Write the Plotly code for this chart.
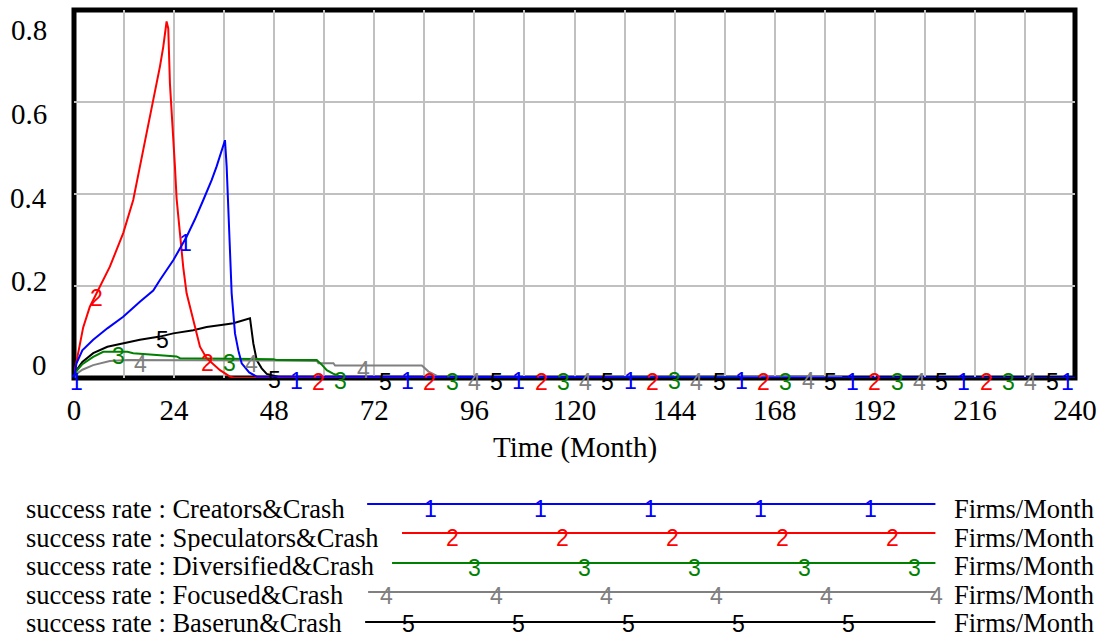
import numpy as np
import plotly.graph_objects as go

# ---------------- data ----------------
series_names = ["Creators&Crash", "Speculators&Crash", "Diversified&Crash",
                "Focused&Crash", "Baserun&Crash"]
series_colors = ["#0000ff", "#ff0000", "#008000", "#808080", "#000000"]
units = "Firms/Month"

t_creators = [0, 0.6, 2, 4.6, 8, 11.8, 15.8, 19, 20.6, 23.8, 27, 29, 31, 33, 34.2, 35.5, 36.2,
              36.6, 37.4, 37.8, 38.6, 39.4, 40.2, 42, 43.8, 240]
v_creators = [0, 0.032, 0.06, 0.083, 0.108, 0.133, 0.166, 0.19, 0.213, 0.256, 0.307, 0.345, 0.387,
              0.43, 0.46, 0.495, 0.517, 0.46, 0.278, 0.184, 0.097, 0.06, 0.032, 0.012, 0.003, 0]

t_speculators = [0, 0.2, 1, 2.2, 3.8, 6.2, 8.6, 11.8, 14.2, 16.6, 19, 20.6, 21.4, 22.2, 22.6, 23,
                 24.2, 24.6, 25.4, 26.2, 27, 28.6, 30.2, 31.8, 35, 37.4, 38.5,
                 122.6, 122.8, 129, 129.2, 240]
v_speculators = [0, 0.017, 0.054, 0.11, 0.155, 0.198, 0.242, 0.315, 0.387, 0.496, 0.6, 0.677, 0.72,
                 0.775, 0.76, 0.64, 0.46, 0.39, 0.315, 0.24, 0.184, 0.126, 0.068, 0.043, 0.017,
                 0.003, 0, 0, 0.002, 0.002, 0, 0]

t_diversified = [0, 0.6, 2, 4.6, 7, 12.8, 14.2, 19.8, 24.6, 25.4, 47.8, 48.5, 58.2, 59.5, 60.6,
                 62, 63, 65, 128.8, 129, 159, 159.2, 240]
v_diversified = [0, 0.015, 0.03, 0.046, 0.057, 0.057, 0.054, 0.05, 0.047, 0.043, 0.041, 0.039,
                 0.039, 0.028, 0.017, 0.01, 0.006, 0, 0, 0.002, 0.002, 0, 0]

t_focused = [0, 0.6, 2, 4.6, 8.6, 12.8, 48, 58.2, 58.6, 62.2, 62.6, 83.4, 85, 86.5, 88,
             159.8, 160, 184, 184.2, 240]
v_focused = [0, 0.009, 0.018, 0.028, 0.037, 0.039, 0.038, 0.037, 0.032, 0.032, 0.027, 0.027,
             0.014, 0.007, 0, 0, 0.002, 0.002, 0, 0]

t_baserun = [0, 0.6, 2, 4.6, 8, 11.8, 15.8, 20.6, 23.8, 28.6, 31.8, 36.6, 38.2, 42.2, 43, 43.8,
             45, 46.2, 48, 50, 240]
v_baserun = [0, 0.017, 0.035, 0.054, 0.068, 0.076, 0.083, 0.09, 0.097, 0.104, 0.111, 0.117,
             0.119, 0.13, 0.075, 0.039, 0.021, 0.009, 0.004, 0, 0]

series_t = [t_creators, t_speculators, t_diversified, t_focused, t_baserun]
series_v = [v_creators, v_speculators, v_diversified, v_focused, v_baserun]

x_tick_vals = list(range(0, 241, 24))
y_tick_labels = ["0.8", "0.6", "0.4", "0.2", "0"]
x_title = "Time (Month)"

# ---------------- layout geometry ----------------
W, H = 1107, 637
PL, PR, PT, PB = 74, 1078, 10, 378


def pxx(px):
    return (px - PL) / (PR - PL)


def pxy(py):
    return (PB - py) / (PB - PT)


SERIF = "Liberation Serif, Times New Roman, serif"
SANS = "Liberation Sans, Arial, sans-serif"
DIGIT_SIZE = 23
LEGEND_SIZE = 26.5

fig = go.Figure()

# draw order: 5,4,3,2,1 so that series 1 is on top
for k in reversed(range(5)):
    fig.add_trace(go.Scatter(x=series_t[k], y=series_v[k], mode="lines",
                             line=dict(color=series_colors[k], width=2),
                             cliponaxis=False, showlegend=False, hoverinfo="skip"))

annotations = []
shapes = []

# number labels along lines
label_period = 240 / 9
for k in range(5):
    t0 = k * label_period / 5
    j = 0
    while t0 + j * label_period <= 240.01:
        tl = t0 + j * label_period
        yl = float(np.interp(tl, series_t[k], series_v[k]))
        xs = -8 if tl > 239 else 2 if tl < 0.1 else 0
        annotations.append(dict(x=tl, y=yl, xref="x", yref="y", text=str(k + 1),
                                showarrow=False, xshift=xs, yshift=-4, height=18,
                                borderpad=0,
                                font=dict(family=SANS, size=DIGIT_SIZE, color=series_colors[k])))
        j += 1

# y tick labels (evenly spread as in the original)
for i, lab in enumerate(y_tick_labels):
    py = 30 + i * (365 - 30) / 4
    annotations.append(dict(x=pxx(49), y=pxy(py), xref="paper", yref="paper", text=lab,
                            showarrow=False, xanchor="right", yanchor="middle",
                            font=dict(family=SERIF, size=29, color="black")))

# axis title
annotations.append(dict(x=0.5, y=pxy(447), xref="paper", yref="paper", text=x_title,
                        showarrow=False, xanchor="center", yanchor="middle",
                        font=dict(family=SERIF, size=29, color="black")))

# legend
legend_rows_y = [504, 533, 563, 592, 622]
legend_text_y = [509, 538, 566, 595, 623]
legend_digit_dy = [5, 5, 5, 4, 2]
legend_line_start = [368, 403, 393, 369, 366]
legend_line_end = 938
legend_digit_first = 432
legend_digit_step = 110.25
for k in range(5):
    ly = legend_rows_y[k]
    ty = legend_text_y[k]
    annotations.append(dict(x=pxx(25), y=pxy(ty), xref="paper", yref="paper",
                            text="success rate : " + series_names[k], showarrow=False,
                            xanchor="left", yanchor="middle", height=26, borderpad=0,
                            font=dict(family=SERIF, size=LEGEND_SIZE, color="black")))
    annotations.append(dict(x=pxx(956), y=pxy(ty), xref="paper", yref="paper",
                            text=units, showarrow=False, xanchor="left", yanchor="middle",
                            height=26, borderpad=0,
                            font=dict(family=SERIF, size=LEGEND_SIZE, color="black")))
    shapes.append(dict(type="line", xref="paper", yref="paper",
                       x0=pxx(legend_line_start[k]), x1=pxx(legend_line_end),
                       y0=pxy(ly), y1=pxy(ly),
                       line=dict(color=series_colors[k], width=2)))
    base = legend_digit_first + 22 * k
    for j in range(-2, 8):
        dx = base + j * legend_digit_step
        if legend_line_start[k] <= dx <= legend_line_end + 3:
            annotations.append(dict(x=pxx(dx), y=pxy(ly + legend_digit_dy[k]), xref="paper",
                                    yref="paper", text=str(k + 1), showarrow=False,
                                    height=18, borderpad=0,
                                    xanchor="center", yanchor="middle",
                                    font=dict(family=SANS, size=DIGIT_SIZE, color=series_colors[k])))

# frame
shapes.append(dict(type="rect", xref="paper", yref="paper", x0=0, x1=1, y0=0, y1=1,
                   line=dict(color="black", width=5), layer="between"))

fig.update_layout(
    width=W, height=H,
    margin=dict(l=PL, r=W - PR, t=PT, b=H - PB, pad=0),
    paper_bgcolor="white", plot_bgcolor="white",
    showlegend=False,
    annotations=annotations,
    shapes=shapes,
    xaxis=dict(range=[0, 240], tickvals=x_tick_vals, ticks="", showline=False,
               zeroline=False, showgrid=True, gridcolor="#c0c0c0", gridwidth=2,
               minor=dict(dtick=12, tick0=0, showgrid=True, gridcolor="#c0c0c0", gridwidth=2),
               tickfont=dict(family=SERIF, size=29, color="black"),
               ticklabelstandoff=12),
    yaxis=dict(range=[0, 0.8], tickvals=[0, 0.2, 0.4, 0.6, 0.8], showticklabels=False,
               ticks="", showline=False, zeroline=False, showgrid=True,
               gridcolor="#c0c0c0", gridwidth=2),
)

fig.write_html("out.html")
